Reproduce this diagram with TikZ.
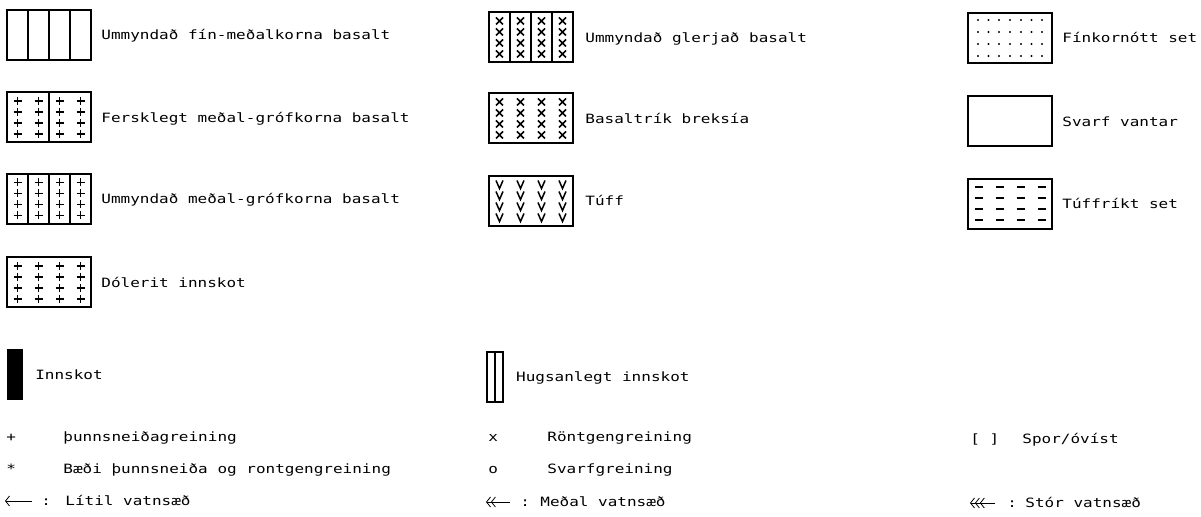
\documentclass[tikz,border=0pt]{standalone}
\usepackage{fontspec}
\setmonofont[FakeStretch=1.25]{DejaVu Sans Mono}
\usetikzlibrary{arrows.meta,positioning}

\begin{document}
\begin{tikzpicture}[x=0.5pt,y=-0.5pt,
    every node/.style={font=\ttfamily\fontsize{6.4}{8}\selectfont},
    legbox/.style={draw,line width=1pt,minimum width=42pt,minimum height=25pt,inner sep=0pt},
    legtext/.style={inner sep=0pt,text height=1.6ex,text depth=.45ex},
    hatchline/.style={line width=0.75pt}]
  \useasboundingbox (0,0) rectangle (1201,517);

  % first column
  \node[legbox] (ufm) at (49,35) {};
  \node[legtext,right=4.5pt of ufm] (ufmtxt) {Ummyndað fín-meðalkorna basalt};
  \node[legbox] (fmg) at (49,117.5) {};
  \node[legtext,right=4.5pt of fmg] (fmgtxt) {Fersklegt meðal-grófkorna basalt};
  \node[legbox] (umg) at (49,199) {};
  \node[legtext,right=4.5pt of umg] (umgtxt) {Ummyndað meðal-grófkorna basalt};
  \node[legbox] (dol) at (49,282.5) {};
  \node[legtext,right=4.5pt of dol] (doltxt) {Dólerit innskot};

  % second column
  \node[legbox] (ugb) at (531,37.5) {};
  \node[legtext,right=5.5pt of ugb] (ugbtxt) {Ummyndað glerjað basalt};
  \node[legbox] (brk) at (531,118.5) {};
  \node[legtext,right=5.5pt of brk] (brktxt) {Basaltrík breksía};
  \node[legbox] (tuf) at (531,201) {};
  \node[legtext,right=5.5pt of tuf] (tuftxt) {Túff};

  % third column
  \node[legbox] (fin) at (1010,38) {};
  \node[legtext,right=4.5pt of fin] (fintxt) {Fínkornótt set};
  \node[legbox] (svf) at (1010,121.5) {};
  \node[legtext,right=4.5pt of svf] (svftxt) {Svarf vantar};
  \node[legbox] (tfs) at (1010,204) {};
  \node[legtext,right=4.5pt of tfs] (tfstxt) {Túffríkt set};

  % column dividers
  \foreach \b in {ufm,umg,ugb}
    \foreach \cx in {-21,0,21}
      \draw[hatchline] ([shift={(\cx,0)}]\b.north) -- ([shift={(\cx,0)}]\b.south);
  \draw[hatchline] (fmg.north) -- (fmg.south);

  % crosses
  \foreach \b in {fmg,umg,dol}
    \foreach \cx in {-31.5,-10.5,10.5,31.5}
      \foreach \cy in {-16.5,-5.5,5.5,16.5}
        \draw[hatchline] ([shift={(\cx,\cy)}]\b.center) +(-4,0) -- +(4,0) +(0,-4) -- +(0,4);

  % x marks
  \foreach \b in {ugb,brk}
    \foreach \cx in {-31.5,-10.5,10.5,31.5}
      \foreach \cy in {-16.5,-5.5,5.5,16.5}
        \draw[hatchline] ([shift={(\cx,\cy)}]\b.center) +(-3.5,-3.5) -- +(3.5,3.5) +(-3.5,3.5) -- +(3.5,-3.5);

  % v marks
  \foreach \cx in {-31.5,-10.5,10.5,31.5}
    \foreach \cy in {-16.5,-5.5,5.5,16.5}
      \draw[hatchline] ([shift={(\cx,\cy)}]tuf.center) +(-3.5,-4) -- +(0,4) -- +(3.5,-4);

  % dots
  \foreach \cx in {-32,-21.5,-11,0,11,21.5,32}
    \foreach \cy in {-18,-6,6,18}
      \fill ([shift={(\cx,\cy)}]fin.center) circle (0.55pt);

  % dashes
  \foreach \cx in {-31.5,-10.5,10.5,31.5}
    \foreach \cy in {-16.5,-5.5,5.5,16.5}
      \draw[line width=1pt] ([shift={(\cx,\cy)}]tfs.center) +(-4,0) -- +(4,0);

  % intrusions
  \node[fill,minimum width=8pt,minimum height=25.5pt,inner sep=0pt] (inn) at (14.5,375) {};
  \node[legtext,right=6pt of inn] (inntxt) {Innskot};
  \node[draw,hatchline,minimum width=8pt,minimum height=25pt,inner sep=0pt] (hug) at (495,377) {};
  \draw[hatchline] (hug.north) -- (hug.south);
  \node[legtext,right=6pt of hug] (hugtxt) {Hugsanlegt innskot};

  % analysis symbols
  \node[legtext,anchor=west] (tsym) at (6,437) {+};
  \node[legtext,anchor=west] (ttxt) at (63,437) {þunnsneiðagreining};
  \node[legtext,anchor=west] (bsym) at (6,469) {*};
  \node[legtext,anchor=west] (btxt) at (63,469) {Bæði þunnsneiða og rontgengreining};
  \node[legtext,anchor=west] (rsym) at (488,437) {x};
  \node[legtext,anchor=west] (rtxt) at (547,437) {Röntgengreining};
  \node[legtext,anchor=west] (ssym) at (488,469) {o};
  \node[legtext,anchor=west] (stxt) at (547,469) {Svarfgreining};
  \node[legtext,anchor=west] (osym) at (970,439) {[ ]};
  \node[legtext,anchor=west] (otxt) at (1022,439) {Spor/óvíst};

  % water veins
  \coordinate (la) at (5,501);
  \coordinate (lb) at (32,501);
  \draw[{Straight Barb[length=2pt,width=5pt]}-] (la) -- (lb);
  \node[legtext,anchor=west] (lcol) at (41,501) {:};
  \node[legtext,anchor=west] (ltxt) at (65,501) {Lítil vatnsæð};
  \coordinate (ma) at (486,502);
  \coordinate (mb) at (510,502);
  \draw[{Straight Barb[length=2pt,width=5pt] Straight Barb[length=2pt,width=5pt]}-] (ma) -- (mb);
  \node[legtext,anchor=west] (mcol) at (520,502) {:};
  \node[legtext,anchor=west] (mtxt) at (540,502) {Meðal vatnsæð};
  \coordinate (sa) at (970,503);
  \coordinate (sb) at (995,503);
  \draw[{Straight Barb[length=2pt,width=5pt] Straight Barb[length=2pt,width=5pt] Straight Barb[length=2pt,width=5pt]}-] (sa) -- (sb);
  \node[legtext,anchor=west] (scol) at (1007,503) {:};
  \node[legtext,anchor=west] (stxt2) at (1025,503) {Stór vatnsæð};
\end{tikzpicture}
\end{document}
